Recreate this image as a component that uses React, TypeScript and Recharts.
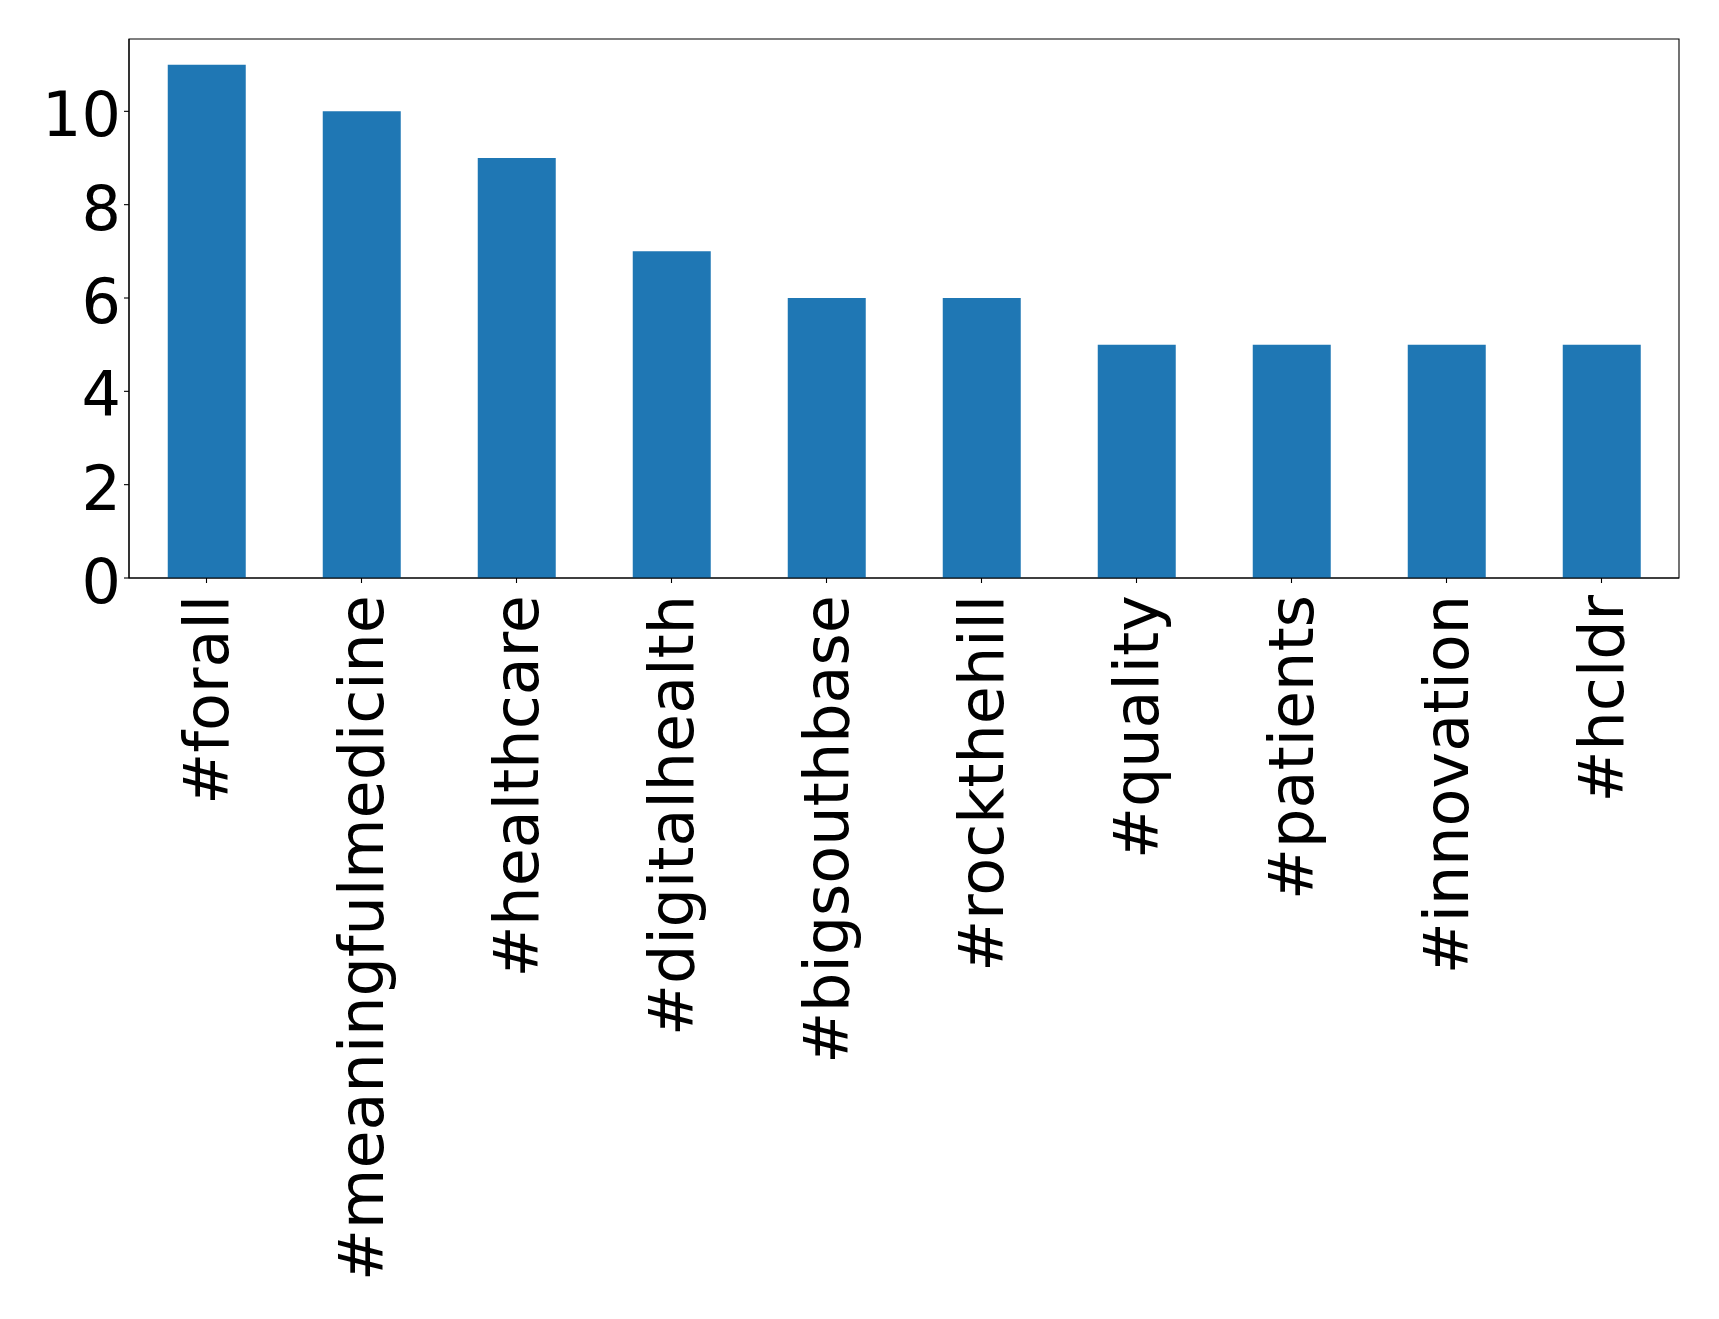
import React from "react";
import { BarChart, Bar, XAxis, YAxis, ReferenceArea } from "recharts";

const categories = [
  "#forall",
  "#meaningfulmedicine",
  "#healthcare",
  "#digitalhealth",
  "#bigsouthbase",
  "#rockthehill",
  "#quality",
  "#patients",
  "#innovation",
  "#hcldr",
];
const counts = [11, 10, 9, 7, 6, 6, 5, 5, 5, 5];
const yTicks = [0, 2, 4, 6, 8, 10];

const data = categories.map((c, i) => ({ name: c, value: counts[i] }));

const FONT = "'DejaVu Sans', sans-serif";
const FS = 62;

const XTick = (props: any) => {
  const { x, y, payload } = props;
  return (
    <g transform={`translate(${x},${y})`}>
      <text
        x={0}
        y={21}
        transform="rotate(-90)"
        textAnchor="end"
        fontFamily={FONT}
        fontSize={FS}
        fill="#000"
      >
        {payload.value}
      </text>
    </g>
  );
};

const YTick = (props: any) => {
  const { x, y, payload } = props;
  return (
    <text
      x={x}
      y={y + 25}
      textAnchor="end"
      fontFamily={FONT}
      fontSize={FS}
      fill="#000"
    >
      {payload.value}
    </text>
  );
};

export default function App() {
  return (
    <div style={{ position: "absolute", left: 0, top: 0, background: "#fff" }}>
      <BarChart
        width={1719}
        height={1319}
        data={data}
        margin={{ top: 39, right: 40, bottom: 0, left: 0 }}
        barCategoryGap="25%"
      >
        <XAxis
          dataKey="name"
          height={741}
          interval={0}
          stroke="#000"
          tick={<XTick />}
          tickSize={5}
          tickMargin={12}
          axisLine={{ stroke: "#000", strokeWidth: 1.1 }}
          tickLine={{ stroke: "#000", strokeWidth: 1.1 }}
        />
        <YAxis
          width={129}
          domain={[0, 11.55]}
          ticks={yTicks}
          allowDataOverflow
          stroke="#000"
          tick={<YTick />}
          tickSize={5}
          tickMargin={3}
          axisLine={{ stroke: "#000", strokeWidth: 1.1 }}
          tickLine={{ stroke: "#000", strokeWidth: 1.1 }}
        />
        <Bar dataKey="value" fill="#1f77b4" isAnimationActive={false} />
        <ReferenceArea
          y1={0}
          y2={11.55}
          fill="none"
          fillOpacity={0}
          stroke="#000"
          strokeWidth={1.1}
          ifOverflow="visible"
        />
      </BarChart>
    </div>
  );
}
